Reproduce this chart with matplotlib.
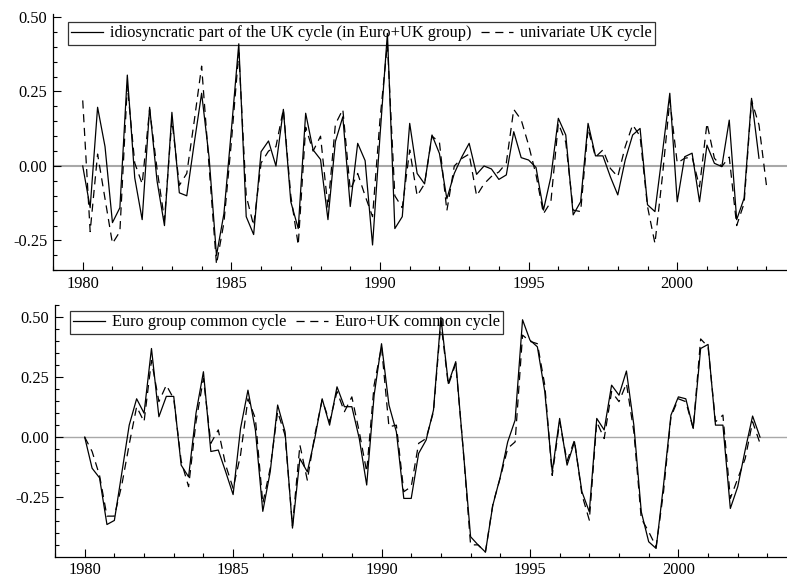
import numpy as np
import matplotlib
matplotlib.use("Agg")
import matplotlib.pyplot as plt
from matplotlib.ticker import MultipleLocator, FixedLocator, FormatStrFormatter

plt.rcParams['font.family'] = ['Liberation Serif', 'DejaVu Serif']
plt.rcParams['axes.unicode_minus'] = False

start_year = 1980

# Top panel: idiosyncratic UK cycle (solid) vs univariate UK cycle (dashed)
uk_idio = [
    0.00, -0.14, 0.197, 0.065, -0.19, -0.14, 0.305, -0.04, -0.18, 0.197,
    -0.05, -0.20, 0.18, -0.09, -0.10, 0.076, 0.244, 0.03, -0.30, -0.16,
    0.12, 0.41, -0.17, -0.23, 0.048, 0.084, 0.0, 0.19, -0.12, -0.21,
    0.177, 0.054, 0.022, -0.18, 0.082, 0.165, -0.136, 0.076, 0.018, -0.265,
    0.10, 0.445, -0.21, -0.17, 0.143, -0.025, -0.06, 0.104, 0.042, -0.11,
    -0.025, 0.03, 0.076, -0.028, 0.0, -0.01, -0.045, -0.03, 0.115, 0.028,
    0.02, -0.005, -0.148, -0.036, 0.16, 0.104, -0.164, -0.12, 0.143, 0.034,
    0.034, -0.036, -0.097, 0.02, 0.104, 0.126, -0.13, -0.153, 0.043, 0.244,
    -0.12, 0.031, 0.043, -0.12, 0.07, 0.009, -0.002, 0.154, -0.18, -0.108,
    0.227, 0.026,
]
uk_univ = [
    0.22, -0.22, 0.04, -0.11, -0.26, -0.22, 0.27, 0.01, -0.06, 0.19,
    -0.01, -0.18, 0.155, -0.065, -0.025, 0.15, 0.335, 0.0, -0.33, -0.19,
    0.08, 0.38, -0.10, -0.20, 0.01, 0.05, 0.065, 0.19, -0.10, -0.265,
    0.13, 0.05, 0.10, -0.14, 0.14, 0.19, -0.08, -0.025, -0.10, -0.17,
    0.155, 0.41, -0.10, -0.14, 0.054, -0.10, -0.06, 0.10, 0.08, -0.15,
    0.0, 0.025, 0.04, -0.10, -0.06, -0.035, -0.02, 0.01, 0.19, 0.155,
    0.07, -0.03, -0.16, -0.12, 0.143, 0.08, -0.148, -0.153, 0.126, 0.03,
    0.054, -0.008, -0.036, 0.065, 0.138, 0.10, -0.136, -0.26, -0.036, 0.22,
    0.01, 0.026, 0.03, -0.07, 0.143, 0.026, -0.002, 0.03, -0.20, -0.125,
    0.22, 0.138, -0.064,
]

# Bottom panel: Euro group common cycle (solid) vs Euro+UK common cycle (dashed)
euro_common = [
    0.0, -0.13, -0.17, -0.365, -0.348, -0.15, 0.05, 0.16, 0.10, 0.37,
    0.085, 0.17, 0.17, -0.117, -0.166, 0.10, 0.273, -0.06, -0.054, -0.145,
    -0.24, 0.036, 0.196, 0.03, -0.31, -0.145, 0.134, 0.022, -0.38, -0.09,
    -0.145, -0.006, 0.16, 0.05, 0.21, 0.127, 0.127, -0.006, -0.20, 0.175,
    0.39, 0.134, 0.022, -0.256, -0.256, -0.068, -0.013, 0.113, 0.50, 0.224,
    0.315, -0.05, -0.416, -0.45, -0.48, -0.284, -0.166, -0.02, 0.071, 0.49,
    0.405, 0.377, 0.19, -0.145, 0.078, -0.117, -0.02, -0.228, -0.312, 0.078,
    0.03, 0.217, 0.175, 0.276, 0.05, -0.312, -0.437, -0.465, -0.20, 0.092,
    0.168, 0.16, 0.036, 0.37, 0.387, 0.05, 0.05, -0.298, -0.207, -0.054,
    0.088, 0.0,
]
euro_uk_common = [
    0.0, -0.06, -0.16, -0.33, -0.33, -0.20, -0.03, 0.127, 0.064, 0.32,
    0.148, 0.217, 0.16, -0.10, -0.207, 0.064, 0.245, -0.026, 0.03, -0.117,
    -0.214, -0.075, 0.16, 0.078, -0.277, -0.13, 0.106, 0.008, -0.37, -0.033,
    -0.18, 0.008, 0.155, 0.064, 0.19, 0.106, 0.168, 0.022, -0.145, 0.217,
    0.377, 0.043, 0.05, -0.228, -0.207, -0.026, -0.006, 0.106, 0.48, 0.217,
    0.307, -0.05, -0.45, -0.45, -0.48, -0.28, -0.17, -0.047, -0.02, 0.426,
    0.40, 0.39, 0.217, -0.16, 0.064, -0.10, -0.013, -0.24, -0.347, 0.064,
    -0.006, 0.19, 0.148, 0.224, 0.022, -0.34, -0.395, -0.458, -0.228, 0.085,
    0.16, 0.148, 0.036, 0.41, 0.377, 0.064, 0.092, -0.256, -0.173, -0.09,
    0.064, -0.026,
]

top_labels = ["idiosyncratic part of the UK cycle (in Euro+UK group)", "univariate UK cycle"]
bot_labels = ["Euro group common cycle", "Euro+UK common cycle"]
ytick_vals = [-0.25, 0.0, 0.25, 0.5]
xtick_vals = [1980, 1985, 1990, 1995, 2000]


def qx(series):
    return start_year + np.arange(len(series)) / 4.0


W, H = 787, 585
fig = plt.figure(figsize=(W / 100, H / 100), dpi=100)

ax1 = fig.add_axes([53 / W, 1 - 270.3 / H, 735.7 / W, 256.3 / H])
ax2 = fig.add_axes([55 / W, 1 - 556.6 / H, 734.7 / W, 251.2 / H])

DASH = (0, (6.5, 4.5))


def style(ax, ylim, zero_lw):
    ax.axhline(0, color='#a8a8a8', lw=zero_lw, zorder=1)
    ax.set_xlim(1979, 2003.75)
    ax.set_ylim(*ylim)
    for s in ('top', 'right'):
        ax.spines[s].set_visible(False)
    for s in ('left', 'bottom'):
        ax.spines[s].set_linewidth(0.9)
    ax.xaxis.set_major_locator(FixedLocator(xtick_vals))
    ax.xaxis.set_minor_locator(MultipleLocator(1))
    ax.yaxis.set_major_locator(FixedLocator(ytick_vals))
    ax.yaxis.set_major_formatter(FormatStrFormatter('%.2f'))
    ax.yaxis.set_minor_locator(MultipleLocator(0.05))
    ax.tick_params(which='major', direction='in', length=5.5, width=0.8,
                   labelsize=11.8, pad=4)
    ax.tick_params(which='minor', direction='in', length=3, width=0.8)


style(ax1, (-0.35, 0.51), 1.5)
style(ax2, (-0.499, 0.55), 1.0)

ax1.plot(qx(uk_idio), uk_idio, color='black', lw=0.9, label=top_labels[0], zorder=3)
ax1.plot(qx(uk_univ), uk_univ, color='black', lw=0.9, ls=DASH, label=top_labels[1], zorder=3)
ax2.plot(qx(euro_common), euro_common, color='black', lw=0.9, label=bot_labels[0], zorder=3)
ax2.plot(qx(euro_uk_common), euro_uk_common, color='black', lw=0.9, ls=DASH, label=bot_labels[1], zorder=3)

for ax, (px, py) in ((ax1, (68, 22)), (ax2, (70, 311))):
    leg = ax.legend(loc='upper left', bbox_to_anchor=(px / W, 1 - py / H),
                    bbox_transform=fig.transFigure, ncol=2, borderaxespad=0,
                    frameon=True, fancybox=False, facecolor='none',
                    edgecolor='black', fontsize=11.8, handlelength=1.95,
                    handletextpad=0.4, columnspacing=0.6, borderpad=0.2)
    leg.get_frame().set_linewidth(0.9)

fig.savefig('out.png', dpi=100)
